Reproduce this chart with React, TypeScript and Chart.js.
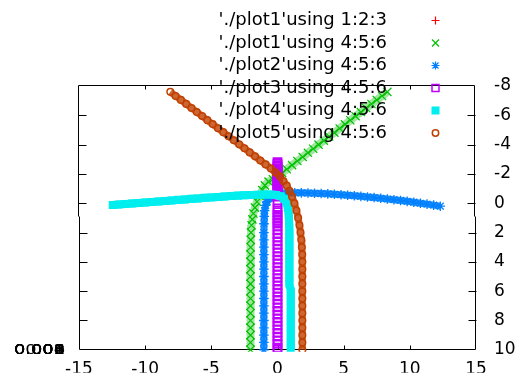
import React, { useEffect, useRef } from 'react';
import { Chart, registerables } from 'chart.js';

Chart.register(...registerables);

// ---- axes ----
const X_MIN = -15;
const X_MAX = 15;
const X_STEP = 5;
const Y_MIN = -8;
const Y_MAX = 10;
const Y_STEP = 2;
const Z_TICK_LABELS = ['0', '0.002', '0.004', '0.006', '0.008', '0.01'];

// ---- legend ----
const LEGEND_LABELS = [
  "'./plot1'using 1:2:3",
  "'./plot1'using 4:5:6",
  "'./plot2'using 4:5:6",
  "'./plot3'using 4:5:6",
  "'./plot4'using 4:5:6",
  "'./plot5'using 4:5:6",
];
const COLORS = ['#ff0000', '#00c000', '#0080ff', '#c000ff', '#00eeee', '#c04000'];
const MARKERS = ['plus', 'cross', 'star', 'box', 'fbox', 'circle'];

// ---- series (x, y) ----
const plot1a: [number, number][] = [];

const plot1b: [number, number][] = [
  [8.3, -7.6], [7.9, -7.32], [7.5, -7.05], [7.1, -6.77], [6.7, -6.5], [6.3, -6.22],
  [5.9, -5.94], [5.5, -5.66], [5.1, -5.38], [4.7, -5.1], [4.3, -4.82], [3.9, -4.55],
  [3.5, -4.27], [3.1, -4.0], [2.7, -3.72], [2.3, -3.44], [1.9, -3.16], [1.5, -2.88],
  [1.1, -2.6], [0.7, -2.32], [0.35, -2.07], [0.0, -1.84], [-0.35, -1.64], [-0.68, -1.48],
  [-0.95, -1.22], [-1.15, -0.9], [-1.35, -0.5], [-1.55, -0.1], [-1.7, 0.3], [-1.82, 0.7],
  [-1.9, 1.1], [-1.96, 1.5], [-2.0, 2.0], [-2.02, 2.5], [-2.03, 3.0], [-2.04, 3.5],
  [-2.04, 4.0], [-2.04, 4.5], [-2.04, 5.0], [-2.04, 5.5], [-2.04, 6.0], [-2.04, 6.5],
  [-2.04, 7.0], [-2.04, 7.5], [-2.04, 8.0], [-2.04, 8.5], [-2.04, 9.0], [-2.04, 9.5],
  [-2.04, 10.0],
];

const plot2: [number, number][] = [
  [12.3, 0.2], [11.8, 0.13], [11.3, 0.06], [10.8, 0.0], [10.3, -0.07], [9.8, -0.13],
  [9.3, -0.19], [8.8, -0.24], [8.3, -0.29], [7.8, -0.34], [7.3, -0.39], [6.8, -0.43],
  [6.3, -0.47], [5.8, -0.51], [5.3, -0.55], [4.8, -0.58], [4.3, -0.61], [3.8, -0.64],
  [3.3, -0.66], [2.8, -0.68], [2.3, -0.7], [1.8, -0.71], [1.3, -0.72], [0.8, -0.71],
  [0.4, -0.69], [0.0, -0.63], [-0.35, -0.52], [-0.6, -0.35], [-0.78, -0.12], [-0.9, 0.15],
  [-0.97, 0.5], [-1.0, 0.9], [-1.02, 1.4], [-1.03, 2.0], [-1.03, 2.5], [-1.03, 3.0],
  [-1.03, 3.5], [-1.03, 4.0], [-1.03, 4.5], [-1.03, 5.0], [-1.03, 5.5], [-1.03, 6.0],
  [-1.03, 6.5], [-1.03, 7.0], [-1.03, 7.5], [-1.03, 8.0], [-1.03, 8.5], [-1.03, 9.0],
  [-1.03, 9.5], [-1.03, 10.0],
];

const PLOT3_X = 0;
const plot3Y: number[] = [
  -2.8, -2.7, -2.6, -2.5, -2.4, -2.3, -2.2, -2.1, -2.0, -1.9, -1.8, -1.7, -1.6, -1.5,
  -1.4, -1.3, -1.2, -1.1, -1.0, -0.9, -0.8, -0.45, -0.05, 0.35, 0.6, 0.8, 1.0, 1.2,
  1.4, 1.6, 1.85, 2.1, 2.35, 2.6, 2.85, 3.1, 3.35, 3.6, 3.85, 4.1, 4.35, 4.6, 4.85,
  5.1, 5.35, 5.6, 5.85, 6.1, 6.35, 6.6, 6.85, 7.1, 7.35, 7.6, 7.85, 8.1, 8.35, 8.6,
  8.85, 9.1, 9.35, 9.6, 9.85, 10.0,
];

const plot4: [number, number][] = [
  [-12.45, 0.12], [-12.0, 0.09], [-11.5, 0.05], [-11.0, 0.02], [-10.5, -0.02], [-10.0, -0.05],
  [-9.5, -0.09], [-9.0, -0.12], [-8.5, -0.16], [-8.0, -0.19], [-7.5, -0.23], [-7.0, -0.26],
  [-6.5, -0.3], [-6.0, -0.33], [-5.5, -0.37], [-5.0, -0.4], [-4.5, -0.43], [-4.0, -0.46],
  [-3.5, -0.49], [-3.0, -0.52], [-2.5, -0.54], [-2.0, -0.56], [-1.5, -0.58], [-1.0, -0.6],
  [-0.5, -0.6], [-0.1, -0.57], [0.25, -0.47], [0.5, -0.3], [0.68, -0.05], [0.78, 0.3],
  [0.85, 0.8], [0.88, 1.4], [0.9, 2.0], [0.9, 2.5], [0.9, 3.0], [0.9, 3.5], [0.9, 4.0],
  [0.9, 4.5], [0.9, 5.0], [0.9, 5.5], [1.0, 6.0], [1.0, 6.5], [1.0, 7.0], [1.0, 7.5],
  [1.0, 8.0], [1.0, 8.5], [1.0, 9.0], [1.0, 9.5], [1.0, 10.0],
];

const plot5: [number, number][] = [
  [-8.1, -7.6], [-7.7, -7.32], [-7.3, -7.05], [-6.9, -6.78], [-6.5, -6.5], [-6.1, -6.22],
  [-5.7, -5.95], [-5.3, -5.67], [-4.9, -5.4], [-4.5, -5.12], [-4.1, -4.85], [-3.7, -4.57],
  [-3.3, -4.3], [-2.9, -4.02], [-2.5, -3.75], [-2.1, -3.47], [-1.7, -3.2], [-1.3, -2.92],
  [-0.9, -2.65], [-0.5, -2.37], [-0.15, -2.1], [0.2, -1.82], [0.45, -1.52], [0.7, -1.2],
  [0.9, -0.85], [1.1, -0.45], [1.28, 0.0], [1.43, 0.5], [1.56, 1.0], [1.66, 1.5],
  [1.74, 2.0], [1.8, 2.5], [1.84, 3.0], [1.87, 3.5], [1.88, 4.0], [1.88, 4.5], [1.88, 5.0],
  [1.88, 5.5], [1.88, 6.0], [1.88, 6.5], [1.88, 7.0], [1.88, 7.5], [1.88, 8.0], [1.88, 8.5],
  [1.88, 9.0], [1.88, 9.5], [1.88, 10.0],
];

const FONT = "'DejaVu Sans', 'Noto Sans', sans-serif";

function drawMarker(ctx: CanvasRenderingContext2D, kind: string, x: number, y: number, color: string) {
  ctx.save();
  ctx.strokeStyle = color;
  ctx.fillStyle = color;
  ctx.lineWidth = 1.2;
  ctx.beginPath();
  if (kind === 'plus') {
    ctx.moveTo(x - 4, y); ctx.lineTo(x + 4, y);
    ctx.moveTo(x, y - 4); ctx.lineTo(x, y + 4);
    ctx.stroke();
  } else if (kind === 'cross') {
    ctx.moveTo(x - 3.5, y - 3.5); ctx.lineTo(x + 3.5, y + 3.5);
    ctx.moveTo(x - 3.5, y + 3.5); ctx.lineTo(x + 3.5, y - 3.5);
    ctx.stroke();
  } else if (kind === 'star') {
    ctx.moveTo(x - 4, y); ctx.lineTo(x + 4, y);
    ctx.moveTo(x, y - 4); ctx.lineTo(x, y + 4);
    ctx.moveTo(x - 3, y - 3); ctx.lineTo(x + 3, y + 3);
    ctx.moveTo(x - 3, y + 3); ctx.lineTo(x + 3, y - 3);
    ctx.stroke();
  } else if (kind === 'box') {
    ctx.lineWidth = 1.5;
    ctx.strokeRect(x - 3.5, y - 3.5, 7, 7);
  } else if (kind === 'fbox') {
    ctx.fillRect(x - 4, y - 4, 8, 8);
  } else if (kind === 'circle') {
    ctx.lineWidth = 1.5;
    ctx.arc(x, y, 3.2, 0, Math.PI * 2);
    ctx.stroke();
  }
  ctx.restore();
}

const framePlugin = {
  id: 'gpFrame',
  beforeDatasetsDraw(chart: any) {
    const { ctx, chartArea } = chart;
    const xs = chart.scales.x;
    const ys = chart.scales.y;
    const L = Math.round(chartArea.left);
    const R = Math.round(chartArea.right);
    const T = Math.round(chartArea.top);
    const B = Math.round(chartArea.bottom);
    const jog = Math.round(ys.getPixelForValue(0.85)) + 0.5;
    const lu = L - 0.5, ll = L + 0.5, ru = R - 1.5, rl = R - 0.5;
    ctx.save();
    ctx.strokeStyle = '#000';
    ctx.lineWidth = 1;
    ctx.beginPath();
    ctx.moveTo(lu, jog); ctx.lineTo(lu, T - 0.5); ctx.lineTo(ru, T - 0.5); ctx.lineTo(ru, jog);
    ctx.moveTo(ll, jog); ctx.lineTo(ll, B - 0.5); ctx.lineTo(rl, B - 0.5); ctx.lineTo(rl, jog);
    ys.ticks.forEach((t: any) => {
      if (t.value === Y_MIN || t.value === Y_MAX) return;
      const py = Math.round(ys.getPixelForValue(t.value)) + 0.5;
      const lx = py < jog ? lu : ll;
      const rx = py < jog ? ru : rl;
      ctx.moveTo(lx, py); ctx.lineTo(lx + 8, py);
      ctx.moveTo(rx + 1, py); ctx.lineTo(rx - 7, py);
    });
    xs.ticks.forEach((t: any) => {
      if (t.value === X_MIN || t.value === X_MAX) return;
      const px = Math.round(xs.getPixelForValue(t.value)) + 0.5;
      ctx.moveTo(px, B - 0.5); ctx.lineTo(px, B - 4.5);
      ctx.moveTo(px, T - 0.5); ctx.lineTo(px, T + 3.5);
    });
    ctx.stroke();
    ctx.restore();
  },
  afterDraw(chart: any) {
    const { ctx, chartArea } = chart;
    ctx.save();
    // collapsed z-axis tick labels (all projected onto the same point)
    ctx.fillStyle = '#000';
    ctx.textAlign = 'right';
    ctx.textBaseline = 'alphabetic';
    ctx.font = `17px ${FONT}`;
    ctx.translate(chartArea.left - 14, chartArea.bottom + 4);
    ctx.scale(1.05, 0.8);
    Z_TICK_LABELS.forEach((s) => ctx.fillText(s, 0, 0));
    ctx.restore();

    // legend
    ctx.save();
    ctx.font = `18px ${FONT}`;
    ctx.fillStyle = '#000';
    ctx.textAlign = 'right';
    ctx.textBaseline = 'alphabetic';
    LEGEND_LABELS.forEach((label, i) => {
      const base = 25 + i * 22.6;
      ctx.fillText(label, 387, base);
      drawMarker(ctx, MARKERS[i], 435.5, 20.5 + i * 22.5, COLORS[i]);
    });
    ctx.restore();
  },
};

const toPts = (arr: [number, number][]) => arr.map(([x, y]) => ({ x, y }));

export default function App() {
  const ref = useRef<HTMLCanvasElement>(null);

  useEffect(() => {
    const canvas = ref.current;
    if (!canvas) return;
    const clip = { left: 8, top: 8, right: 8, bottom: 2 };
    const chart = new Chart(canvas, {
      type: 'scatter',
      data: {
        datasets: [
          {
            label: LEGEND_LABELS[0], data: toPts(plot1a), order: 5,
            pointStyle: 'cross', pointRadius: 4, pointBorderWidth: 1.2,
            pointBorderColor: COLORS[0], pointBackgroundColor: COLORS[0], showLine: false, clip,
          },
          {
            label: LEGEND_LABELS[1], data: toPts(plot1b), order: 4,
            pointStyle: 'crossRot', pointRadius: 5.8, pointBorderWidth: 1.2,
            pointBorderColor: COLORS[1], pointBackgroundColor: COLORS[1],
            showLine: true, borderColor: 'rgba(40,200,40,0.45)', borderWidth: 8, clip,
          },
          {
            label: LEGEND_LABELS[2], data: toPts(plot2), order: 3,
            pointStyle: 'star', pointRadius: 4.8, pointBorderWidth: 1.3,
            pointBorderColor: COLORS[2], pointBackgroundColor: COLORS[2],
            showLine: true, borderColor: 'rgba(0,128,255,0.85)', borderWidth: 7, clip,
          },
          {
            label: LEGEND_LABELS[3], data: plot3Y.map((y) => ({ x: PLOT3_X, y })), order: 2,
            pointStyle: 'rect', pointRadius: 5.6, pointBorderWidth: 1.8,
            pointBorderColor: COLORS[3], pointBackgroundColor: 'rgba(0,0,0,0)', showLine: false, clip,
          },
          {
            label: LEGEND_LABELS[4], data: toPts(plot4), order: 1,
            pointStyle: 'rect', pointRadius: 5.66, pointBorderWidth: 0,
            pointBorderColor: COLORS[4], pointBackgroundColor: COLORS[4],
            showLine: true, borderColor: COLORS[4], borderWidth: 8, clip,
          },
          {
            label: LEGEND_LABELS[5], data: toPts(plot5), order: 0,
            pointStyle: 'circle', pointRadius: 3.3, pointBorderWidth: 1.5,
            pointBorderColor: COLORS[5], pointBackgroundColor: 'rgba(0,0,0,0)',
            showLine: true, borderColor: 'rgba(192,64,0,0.8)', borderWidth: 7, clip,
          },
        ] as any,
      },
      options: {
        responsive: false,
        animation: false,
        devicePixelRatio: 1,
        events: [],
        layout: { padding: { left: 79, top: 86, right: 0, bottom: 0 } },
        plugins: { legend: { display: false }, tooltip: { enabled: false } },
        scales: {
          x: {
            type: 'linear',
            position: 'bottom',
            min: X_MIN,
            max: X_MAX,
            grid: { display: false, drawTicks: false },
            border: { display: false },
            ticks: {
              stepSize: X_STEP, padding: 10, maxRotation: 0, autoSkip: false,
              color: '#000', font: { family: FONT, size: 17 },
            },
            afterFit: (s: any) => { s.height = 23; },
          },
          y: {
            type: 'linear',
            position: 'right',
            reverse: true,
            min: Y_MIN,
            max: Y_MAX,
            grid: { display: false, drawTicks: false },
            border: { display: false },
            ticks: {
              stepSize: Y_STEP, padding: 18, autoSkip: false,
              color: '#000', font: { family: FONT, size: 17 },
            },
            afterFit: (s: any) => { s.width = 47; },
          },
        },
      } as any,
      plugins: [framePlugin],
    });
    return () => chart.destroy();
  }, []);

  return (
    <div style={{ position: 'absolute', left: 0, top: 0, width: 523, height: 378, background: '#fff' }}>
      <canvas ref={ref} width={523} height={378} style={{ display: 'block', width: 523, height: 378 }} />
    </div>
  );
}
